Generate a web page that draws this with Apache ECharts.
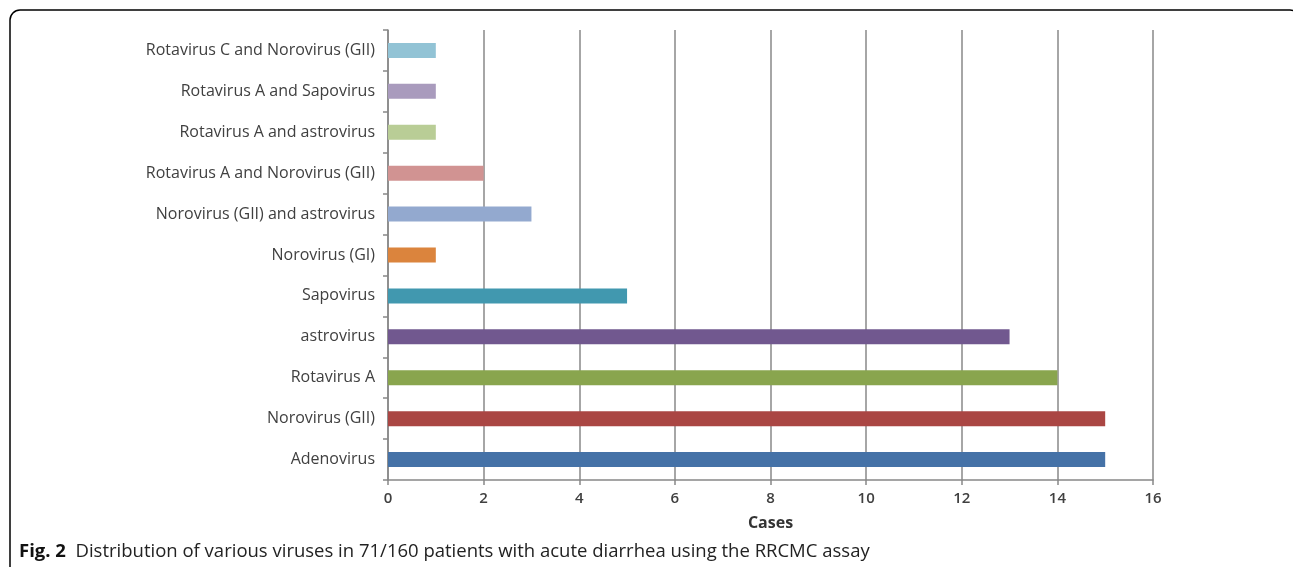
<!DOCTYPE html>
<html><head><meta charset="utf-8">
<script src="https://cdn.jsdelivr.net/npm/echarts@6/dist/echarts.min.js"></script>
<style>html,body{margin:0;padding:0;background:#fff}#c{width:1293px;height:567px}</style>
</head><body><div id="c"></div>
<script>
const categories = ["Adenovirus","Norovirus (GII)","Rotavirus A","astrovirus","Sapovirus","Norovirus (GI)","Norovirus (GII) and astrovirus","Rotavirus A and Norovirus (GII)","Rotavirus A and astrovirus","Rotavirus A and Sapovirus","Rotavirus C and Norovirus (GII)"];
const cases = [15,15,14,13,5,1,3,2,1,1,1];
const barColors = ["#4572A7","#AA4643","#89A54E","#71588F","#4198AF","#DB843D","#93A9CF","#D19392","#B9CD96","#A99BBD","#92C3D5"];
const xTicks = [0,2,4,6,8,10,12,14,16];
const chart = echarts.init(document.getElementById('c'));
chart.setOption({
  animation:false,
  grid:{left:388,right:140,top:30,bottom:87,containLabel:false},
  xAxis:{type:'value',min:xTicks[0],max:xTicks[xTicks.length-1],interval:2,
    name:'Cases',nameLocation:'middle',nameGap:35,
    nameTextStyle:{fontFamily:'Open Sans',fontWeight:'bold',fontSize:16,color:'#333'},
    axisLine:{show:true,lineStyle:{color:'#888',width:1.5}},
    axisTick:{show:true,length:5,lineStyle:{color:'#888',width:1.5}},
    axisLabel:{fontFamily:'Open Sans',fontSize:15,fontWeight:600,color:'#404040',margin:11},
    splitLine:{show:true,lineStyle:{color:'#888',width:1.5}}},
  yAxis:{type:'category',data:categories,
    axisLine:{show:true,lineStyle:{color:'#888',width:1.5}},
    axisTick:{show:true,length:5,inside:false,lineStyle:{color:'#888',width:1.5}},
    axisLabel:{fontFamily:'Open Sans',fontSize:16,color:'#404040',margin:13},
    splitLine:{show:false}},
  series:[{type:'bar',data:cases.map((v,i)=>({value:v,itemStyle:{color:barColors[i]}})),barWidth:15}],
  graphic:[
    {type:'rect',shape:{x:10,y:10,width:1290,height:600,r:10},style:{fill:'none',stroke:'#000',lineWidth:1.5},silent:true},
    {type:'text',left:19,top:542,style:{rich:{b:{fontFamily:'Open Sans',fontWeight:'bold',fontSize:18.5,fill:'#111'},n:{fontFamily:'Open Sans',fontSize:18.5,fill:'#222'}},text:'{b|Fig. 2}{n|  Distribution of various viruses in 71/160 patients with acute diarrhea using the RRCMC assay}'}}
  ]
});
</script></body></html>
